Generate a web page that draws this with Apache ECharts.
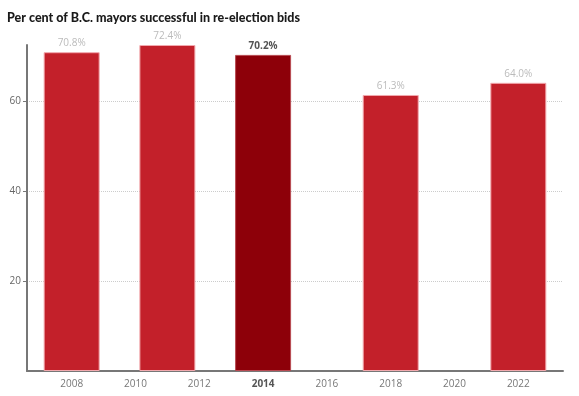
<!DOCTYPE html>
<html>
<head>
<meta charset="utf-8">
<script src="https://cdn.jsdelivr.net/npm/echarts@6/dist/echarts.min.js"></script>
<style>
  html, body { margin: 0; padding: 0; background: #fff; }
  #main { width: 579px; height: 396px; }
</style>
</head>
<body>
<div id="main"></div>
<script>
    // election years and share of mayors re-elected (%)
    var years = [2008, 2011, 2014, 2018, 2022];
    var values = [70.8, 72.4, 70.2, 61.3, 64.0];
    var highlightYear = 2014;
    var xTickLabels = [2008, 2010, 2012, 2014, 2016, 2018, 2020, 2022];
    var yTickLabels = [20, 40, 60];

    var myChart = echarts.init(document.getElementById('main'));

    var barData = years.map(function (y, i) {
        var hi = y === highlightYear;
        return {
            value: [y, values[i]],
            itemStyle: hi ? { color: '#8d0009', borderColor: '#b84a52' } : undefined,
            label: hi ? { color: '#555', fontWeight: 'bold' } : undefined
        };
    });

    myChart.setOption({
        animation: false,
        title: {
            text: 'Per cent of B.C. mayors successful in re-election bids',
            left: 2,
            top: 6,
            textStyle: { fontFamily: 'Lato', fontSize: 12.5, fontWeight: 900, color: '#1a1a1a' }
        },
        grid: { left: 27, right: 16, top: 45, bottom: 25 },
        xAxis: {
            type: 'value',
            min: 2006.6,
            max: 2023.4,
            axisLine: { lineStyle: { color: '#777', width: 2 } },
            axisTick: { show: false },
            splitLine: { show: false },
            axisLabel: {
                customValues: xTickLabels,
                color: '#777',
                fontFamily: 'Open Sans',
                fontSize: 10,
                margin: 8,
                formatter: function (v) {
                    return v === highlightYear ? '{b|' + v + '}' : String(v);
                },
                rich: { b: { fontWeight: 'bold', color: '#555', fontSize: 10, fontFamily: 'Open Sans' } }
            }
        },
        yAxis: {
            type: 'value',
            min: 0,
            max: 72.4,
            axisLine: { show: true, lineStyle: { color: '#777', width: 2 } },
            axisTick: { show: true, customValues: yTickLabels, length: 4, lineStyle: { color: '#777' } },
            axisLabel: { customValues: yTickLabels, color: '#666', fontFamily: 'Open Sans', fontSize: 10, margin: 6 },
            splitLine: { show: true, lineStyle: { type: 'dotted', color: '#ccc' } }
        },
        series: [{
            type: 'bar',
            barWidth: 56,
            data: barData,
            itemStyle: { color: '#c3202a', borderColor: '#f2a9ae', borderWidth: 1 },
            label: {
                show: true,
                position: 'top',
                distance: 4,
                color: '#bbb',
                fontFamily: 'Open Sans',
                fontSize: 10,
                formatter: function (p) { return p.value[1].toFixed(1) + '%'; }
            }
        }]
    });
</script>
</body>
</html>
